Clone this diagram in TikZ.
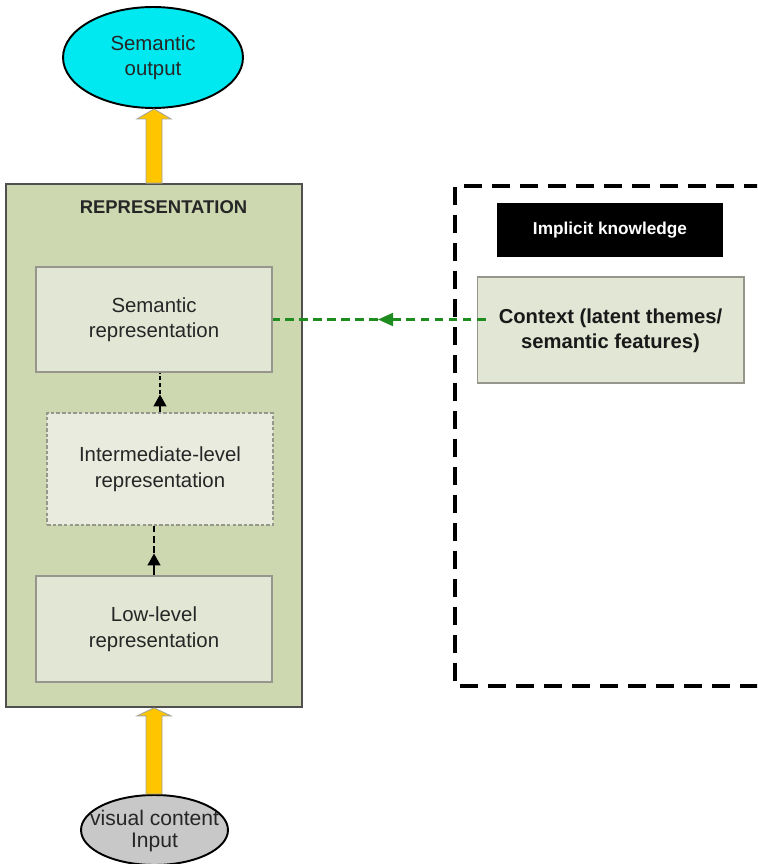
\documentclass[tikz,border=0pt]{standalone}
\usepackage{fontspec}
\setmainfont{Liberation Sans}
\usetikzlibrary{arrows.meta,shapes.geometric,calc}
\definecolor{repfill}{RGB}{206,216,176}
\definecolor{boxfill}{RGB}{226,230,212}
\definecolor{boxline}{RGB}{150,150,140}
\definecolor{repline}{RGB}{80,80,80}
\definecolor{cyanfill}{RGB}{0,232,240}
\definecolor{grayfill}{RGB}{200,200,200}
\definecolor{arrowyellow}{RGB}{255,198,0}
\definecolor{arrowedge}{RGB}{165,165,150}
\definecolor{ctxgreen}{RGB}{30,140,30}
\tikzset{
  txt/.style={font=\fontsize{11.6}{14.5}\selectfont, align=center, text=black!85},
  innerbox/.style={draw=boxline, fill=boxfill, line width=0.6pt, inner sep=0pt},
  ovalnode/.style={ellipse, draw=black, line width=1.1pt, inner sep=0pt},
  bigarrow/.style={fill=arrowyellow, draw=arrowedge, line width=0.5pt},
  blackarrow/.style={draw=black, line width=0.9pt},
  blacktip/.style={-{Triangle[length=0.24cm,width=0.26cm]}},
}
\begin{document}
\begin{tikzpicture}[x=0.02cm,y=-0.02cm]
\clip (0,0) rectangle (757,864);
\fill[white] (0,0) rectangle (757,864);

% representation container
\node[draw=repline, fill=repfill, line width=1.1pt, minimum width=5.92cm, minimum height=10.46cm, inner sep=0pt] (rep) at (154,445.5) {};
\node[font=\bfseries\fontsize{10.5}{12}\selectfont, text=black!85] (reptitle) at ($(rep.north)+(9.5,24)$) {REPRESENTATION};

\node[innerbox, minimum width=4.72cm, minimum height=2.1cm] (sem) at (154,319.5) {};
\node[txt] at (sem) {Semantic\\representation};

\node[innerbox, dash pattern=on 2pt off 1.2pt, fill=boxfill!80!white, minimum width=4.52cm, minimum height=2.24cm] (inter) at (160,469) {};
\node[txt] at (inter) {Intermediate-level\\representation};

\node[innerbox, minimum width=4.72cm, minimum height=2.12cm] (low) at (154,629) {};
\node[txt] at (low) {Low-level\\representation};

% output and input ellipses
\node[ovalnode, fill=cyanfill, minimum width=3.6cm, minimum height=2.02cm] (outp) at (153,57.5) {};
\node[txt] at (outp) {Semantic\\output};

\node[ovalnode, fill=grayfill, minimum width=2.94cm, minimum height=1.4cm] (inp) at (154.5,830) {};
\node[txt, font=\fontsize{12}{12.8}\selectfont] at ($(inp)+(0,1)$) {visual content\\Input};

% yellow block arrows
\draw[bigarrow] ($(rep.north)+(-8,0)$) -- ($(rep.north |- outp.south)+(-8,10)$)
  -- ($(rep.north |- outp.south)+(-17,10)$) -- (rep.north |- outp.south)
  -- ($(rep.north |- outp.south)+(17,10)$) -- ($(rep.north |- outp.south)+(8,10)$)
  -- ($(rep.north)+(8,0)$) -- cycle;
\draw[bigarrow] ($(rep.south |- inp.north)+(-8,0)$) -- ($(rep.south)+(-8,8)$)
  -- ($(rep.south)+(-17,8)$) -- (rep.south)
  -- ($(rep.south)+(17,8)$) -- ($(rep.south)+(8,8)$)
  -- ($(rep.south |- inp.north)+(8,0)$) -- cycle;

% black dashed arrows between levels
\coordinate (lowtip) at ($(low.north)+(0,-22)$);
\draw[blackarrow, blacktip] (low.north) -- (lowtip);
\draw[blackarrow, dash pattern=on 4pt off 2pt] (lowtip) -- (lowtip |- inter.south);
\coordinate (midtip) at ($(inter.north)+(0,-18)$);
\draw[blackarrow, blacktip] (inter.north) -- (midtip);
\draw[blackarrow, dash pattern=on 2.5pt off 1.5pt] (midtip) -- (midtip |- sem.south);

% implicit knowledge region
\draw[black, line width=1.8pt, dash pattern=on 0.36cm off 0.2cm] (790,186) -- (455,186) -- (455,686) -- (790,686);
\node[fill=black, minimum width=4.52cm, minimum height=1.08cm, inner sep=0pt] (impl) at (610,230) {};
\node[font=\bfseries\fontsize{9.8}{11}\selectfont, text=white] at (impl) {Implicit knowledge};

\node[innerbox, minimum width=5.34cm, minimum height=2.12cm] (ctx) at (610.5,330) {};
\coordinate (gstart) at ($(ctx.west)+(9,0)$);
\coordinate (gtip) at (378,0);
\draw[ctxgreen, line width=1.2pt, dash pattern=on 5pt off 3pt, -{Triangle[length=0.3cm,width=0.26cm]}] (gstart |- sem.east) -- (gtip |- sem.east);
\draw[ctxgreen, line width=1.2pt, dash pattern=on 5pt off 3pt] (gtip |- sem.east) -- (sem.east);
\node[font=\bfseries\fontsize{11.5}{14.2}\selectfont, align=center, text=black!90] at ($(ctx)+(0,1)$) {Context (latent themes/\\semantic features)};
\end{tikzpicture}
\end{document}
